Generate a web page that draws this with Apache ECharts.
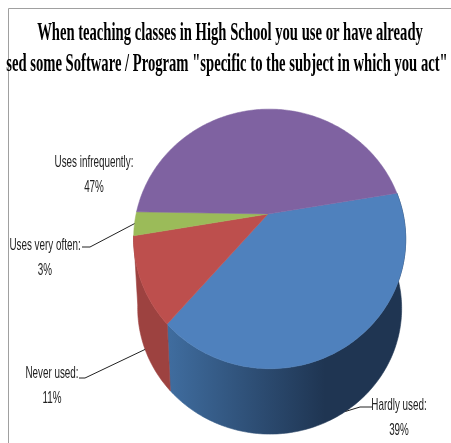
<!DOCTYPE html>
<html>
<head>
<meta charset="utf-8">
<style>html,body{margin:0;padding:0;background:#fff}#chart{width:451px;height:443px}</style>
<script src="https://cdn.jsdelivr.net/npm/echarts@6/dist/echarts.min.js"></script>
</head>
<body>
<div id="chart"></div>
<script>
var titleLines = ['When teaching classes in High School you use or have already',
                  'sed some Software / Program "specific to the subject in which you act"'];
var categories = ['Hardly used', 'Never used', 'Uses very often', 'Uses infrequently'];
var values = [39, 11, 3, 47];
var colors = ['#4f81bd', '#bd4f4d', '#9bbb59', '#7f62a1'];

// where the labels sit, same order as categories
var labelPos = [[399, 405], [52, 373], [45, 245], [94, 162]];
var labelScale = 0.58;
var leaderBend = [[360, 407], [85, 378], [90, 247], null];
var leaderEnd = [[372, 407], [79, 378], [82, 247], null];
var leaderOnBase = [true, true, false, false];

// tilted circle: perspective projection of the pie disc
var apexX = 268, apexY = 214, radX = 133.5, radY = 125;
var tiltV = -0.192, tiltU = -0.012;
var startDeg = -9.8, depth = 70, baseScale = 0.97;

function project(deg, base) {
    var a = deg * Math.PI / 180;
    var u = Math.cos(a), v = Math.sin(a);
    var w = 1 + tiltV * v + tiltU * u;
    var x = apexX + radX * u / w;
    var y = apexY + radY * v / w;
    if (base) {
        x = 270 + (x - 270) * baseScale;
        y = apexY + depth + (y - apexY) * baseScale;
    }
    return [x, y];
}

function sliceAngles(i) {
    var before = 0;
    for (var k = 0; k < i; k++) before += values[k];
    return [startDeg + before * 3.6, startDeg + (before + values[i]) * 3.6];
}

function arc(a0, a1, base) {
    var pts = [];
    var n = Math.ceil(Math.abs(a1 - a0));
    for (var k = 0; k <= n; k++) pts.push(project(a0 + (a1 - a0) * k / n, base));
    return pts;
}

function renderTop(params) {
    var i = params.dataIndex;
    var r = sliceAngles(i);
    return {
        type: 'polygon',
        shape: { points: [[apexX, apexY]].concat(arc(r[0], r[1], false)) },
        style: { fill: colors[i], stroke: colors[i], lineWidth: 0.5 }
    };
}

var wallFill = [
    { type: 'linear', x: 170, y: 0, x2: 325, y2: 0, global: true,
      colorStops: [{ offset: 0, color: '#3f6c9e' }, { offset: 1, color: '#1f3552' }] },
    '#9d4240'
];

function renderWall(params) {
    var i = params.dataIndex;
    var r = sliceAngles(i);
    var mid = (r[0] + r[1]) / 2;
    // back slices are hidden behind the top face
    if (Math.sin(mid * Math.PI / 180) < 0.2) return null;
    return {
        type: 'polygon',
        shape: { points: arc(r[0], r[1], false).concat(arc(r[1], r[0], true)) },
        style: { fill: wallFill[i], stroke: wallFill[i], lineWidth: 0.6 }
    };
}

function renderLabel(params) {
    var i = params.dataIndex;
    var r = sliceAngles(i);
    var font = '17px "Liberation Sans", sans-serif';
    var children = [
        { type: 'text', x: labelPos[i][0], y: labelPos[i][1], scaleX: labelScale,
          style: { text: categories[i] + ':', font: font, fill: '#222', align: 'center', verticalAlign: 'middle' } },
        { type: 'text', x: labelPos[i][0], y: labelPos[i][1] + 25, scaleX: labelScale,
          style: { text: values[i] + '%', font: font, fill: '#222', align: 'center', verticalAlign: 'middle' } }
    ];
    if (leaderBend[i]) {
        children.push({
            type: 'polyline',
            shape: { points: [project((r[0] + r[1]) / 2, leaderOnBase[i]), leaderBend[i], leaderEnd[i]] },
            style: { stroke: '#222', lineWidth: 1, fill: null }
        });
    }
    return { type: 'group', children: children };
}

var chart = echarts.init(document.getElementById('chart'));
chart.setOption({
    animation: false,
    backgroundColor: '#fff',
    graphic: [
        { type: 'polyline', shape: { points: [[8.5, 443], [8.5, 8.5], [451, 8.5]] },
          style: { stroke: '#a0a0a0', lineWidth: 1, fill: null } },
        { type: 'text', x: 230, y: 34, scaleX: 0.585,
          style: { text: titleLines[0], font: 'bold 25px "Liberation Serif", serif', fill: '#000', align: 'center', verticalAlign: 'middle' } },
        { type: 'text', x: 227, y: 65, scaleX: 0.585,
          style: { text: titleLines[1], font: 'bold 25px "Liberation Serif", serif', fill: '#000', align: 'center', verticalAlign: 'middle' } }
    ],
    series: [
        { type: 'custom', coordinateSystem: 'none', silent: true, renderItem: renderWall, data: values },
        { type: 'custom', coordinateSystem: 'none', silent: true, renderItem: renderTop, data: values },
        { type: 'custom', coordinateSystem: 'none', silent: true, renderItem: renderLabel, data: values }
    ]
});
</script>
</body>
</html>
